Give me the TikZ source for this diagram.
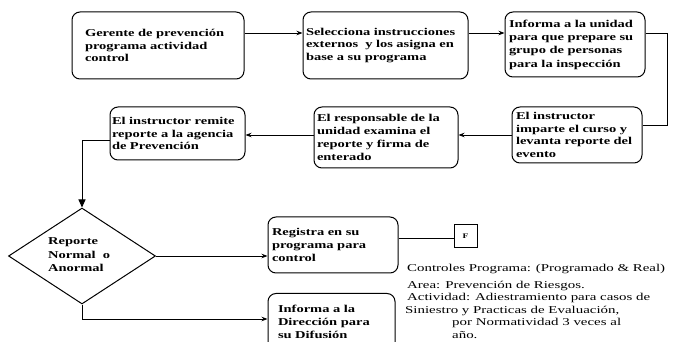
\documentclass[tikz,border=0pt]{standalone}
\usepackage{fontspec}
\setmainfont{Liberation Serif}[FakeStretch=1.38]
\newfontfamily\notefont{Liberation Serif}[FakeStretch=1.42]
\usetikzlibrary{arrows.meta,shapes.geometric,calc}
\tikzset{
  flowbox/.style={draw, line width=1pt, rounded corners=8pt, align=left,
    font=\fontsize{10.5}{12.8}\selectfont\bfseries, inner ysep=2pt},
  arr/.style={line width=0.9pt, -{Stealth[length=6pt,width=4.5pt]}},
  conn/.style={line width=0.9pt},
  decision/.style={draw, diamond, line width=1pt, inner sep=0pt},
  note/.style={align=left, inner sep=0pt, font=\notefont\fontsize{10.5}{12.5}\selectfont}
}
\begin{document}
\begin{tikzpicture}[x=1pt,y=-1pt]
\useasboundingbox (0,0) rectangle (681,342);
% boxes (centre, size)
\node[flowbox, minimum width=172pt, minimum height=67pt, text width=146pt, inner xsep=13pt] (b1) at (158,45.5)
  {Gerente de prevención\\programa actividad\\control};
\node[flowbox, minimum width=165pt, minimum height=67pt, text width=159pt, inner xsep=3pt] (b2) at (385.5,45.5)
  {Selecciona instrucciones\\externos \ y los asigna en\\base a su programa};
\node[flowbox, minimum width=140pt, minimum height=65pt, text width=132pt, inner xsep=4pt,
  font=\fontsize{10.5}{13.3}\selectfont\bfseries] (b3) at (575,44.5)
  {Informa a la unidad\\para que prepare su\\grupo de personas\\para la inspección};
\node[flowbox, minimum width=130pt, minimum height=56pt, text width=122pt, inner xsep=4pt] (b4) at (577,135)
  {El instructor\\imparte el curso y\\levanta reporte del\\evento};
\node[flowbox, minimum width=144pt, minimum height=61pt, text width=138pt, inner xsep=3pt] (b5) at (386,137.5)
  {El responsable de la\\unidad examina el\\reporte y firma de\\enterado};
\node[flowbox, minimum width=135pt, minimum height=53pt, text width=131pt, inner xsep=2pt] (b6) at (177.5,133.5)
  {El instructor remite\\reporte a la agencia\\de Prevención};
\node[decision, minimum width=147pt, minimum height=96pt] (dec) at (82,256) {};
\node[align=left, inner sep=0pt, anchor=west, font=\fontsize{10.5}{13.5}\selectfont\bfseries] (dectext) at (48,255)
  {Reporte\\Normal \ o\\Anormal};
\node[flowbox, minimum width=130pt, minimum height=56pt, text width=122pt, inner xsep=4pt] (b7) at (333,245)
  {Registra en su\\programa para\\control};
\node[draw, line width=1pt, minimum width=23pt, minimum height=23pt, inner sep=0pt,
  font=\fontsize{7}{8}\selectfont\bfseries] (F) at (465.5,236.5) {F};
\node[flowbox, minimum width=127pt, minimum height=57pt, text width=107pt, inner xsep=10pt] (b8) at (331.5,322)
  {Informa a la\\Dirección para\\su Difusión};
\node[note, anchor=north west] (notes) at (407,264.5)
  {Controles Programa: (Programado \& Real)\\[4pt]
   Area: Prevención de Riesgos.\\
   Actividad: Adiestramiento para casos de\\
   \hspace*{-2pt}Siniestro y Practicas de Evaluación,\\
   \hspace*{45pt}por Normatividad 3 veces al\\
   \hspace*{45pt}año.};
% connectors
\draw[arr] ([yshift=12.5pt]b1.east) -- ([yshift=12.5pt]b1.east -| b2.west);
\draw[arr] ([yshift=12.5pt]b2.east) -- ([yshift=12.5pt]b2.east -| b3.west);
\draw[conn] ([yshift=11.5pt]b3.east) -- ++(22,0) |- ([yshift=10pt]b4.east);
\draw[arr] (b4.west) -- (b4.west -| b5.east);
\draw[arr] ([yshift=2.5pt]b5.west) -- ([yshift=2.5pt]b5.west -| b6.east);
\draw[line width=0.9pt, -{Triangle[length=8pt,width=7pt]}] ([yshift=-6.5pt]b6.west) -| (dec.north);
\draw[arr] (dec.east) -- (dec.east -| b7.west);
\draw[conn] ([yshift=7pt]b7.east) -- ([yshift=7pt]b7.east -| F.west);
\draw[arr] (dec.south) |- ([yshift=3pt]b8.west);
\end{tikzpicture}
\end{document}
